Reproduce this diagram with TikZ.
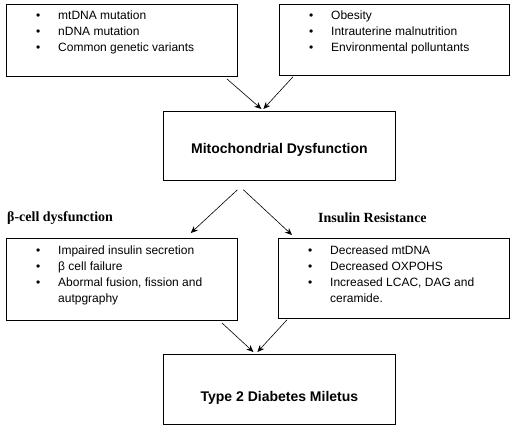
\documentclass[tikz,border=0pt]{standalone}
\usepackage{fontspec}
\setmainfont{Liberation Serif}
\setsansfont{Liberation Sans}
\usetikzlibrary{arrows.meta,positioning}
\newcommand{\bul}{\makebox[22pt][l]{•}}
\newcommand{\cont}{\hspace*{22pt}}

\begin{document}
\begin{tikzpicture}[x=1pt,y=-1pt,
  box/.style={draw,line width=0.8pt,minimum width=#1,anchor=north west,inner sep=0pt},
  list/.style={anchor=north west,inner sep=0pt,align=left,font=\sffamily\fontsize{12}{16}\selectfont},
  title/.style={font=\sffamily\bfseries\fontsize{14}{16}\selectfont},
  head/.style={anchor=west,inner sep=0pt,font=\rmfamily\bfseries\fontsize{14}{16}\selectfont},
  link/.style={line width=0.6pt,-{Stealth[length=7pt,width=6pt]}}]
\useasboundingbox (0,0) rectangle (512,426);
% Causes
\node[box=231pt,minimum height=72pt] (gene) at (6,4) {};
\node[box=230pt,minimum height=71pt] (env) at (279,4) {};
\node[list] (genelist) at ([xshift=30pt,yshift=-6.5pt]gene.north west)
  {\bul mtDNA mutation\\ \bul nDNA mutation\\ \bul Common genetic variants};
\node[list] (envlist) at ([xshift=30pt,yshift=-6.5pt]env.north west)
  {\bul Obesity\\ \bul Intrauterine malnutrition\\ \bul Environmental polluntants};
% Centre
\node[box=232pt,minimum height=69pt] (mito) at (163,111) {};
\node[title] (mitotxt) at ([yshift=-4pt]mito.center) {Mitochondrial Dysfunction};
% Effects
\node[box=231pt,minimum height=82pt] (beta) at (6,238) {};
\node[box=231pt,minimum height=80pt] (ins) at (278,238) {};
\node[head] (betahead) at ([xshift=1pt,yshift=20pt]beta.north west) {β-cell dysfunction};
\node[head] (inshead) at ([xshift=40pt,yshift=20pt]ins.north west) {Insulin Resistance};
\node[list] (betalist) at ([xshift=30pt,yshift=-7.5pt]beta.north west)
  {\bul Impaired insulin secretion\\ \bul β cell failure\\ \bul Abormal fusion, fission and\\ \cont autpgraphy};
\node[list] (inslist) at ([xshift=30pt,yshift=-7.5pt]ins.north west)
  {\bul Decreased mtDNA\\ \bul Decreased OXPOHS\\ \bul Increased LCAC, DAG and\\ \cont ceramide.};
% Outcome
\node[box=232pt,minimum height=70pt] (t2dm) at (163,354) {};
\node[title] (t2dmtxt) at ([yshift=-8pt]t2dm.center) {Type 2 Diabetes Miletus};
% Arrows
\draw[link] ([xshift=-11pt,yshift=-2pt]gene.south east) -- ([xshift=-18pt,yshift=2pt]mito.north);
\draw[link] ([xshift=14pt,yshift=-1pt]env.south west) -- ([xshift=-16pt,yshift=2pt]mito.north);
\draw[link] ([xshift=-42pt,yshift=-9pt]mito.south) -- ([xshift=-47pt,yshift=5pt]beta.north east);
\draw[link] ([xshift=-36pt,yshift=-9pt]mito.south) -- ([xshift=14pt,yshift=3pt]ins.north west);
\draw[link] ([xshift=-16pt,yshift=-2pt]beta.south east) -- ([xshift=-26pt,yshift=2pt]t2dm.north);
\draw[link] ([xshift=9pt,yshift=-1pt]ins.south west) -- ([xshift=-22pt,yshift=2pt]t2dm.north);
\end{tikzpicture}
\end{document}
